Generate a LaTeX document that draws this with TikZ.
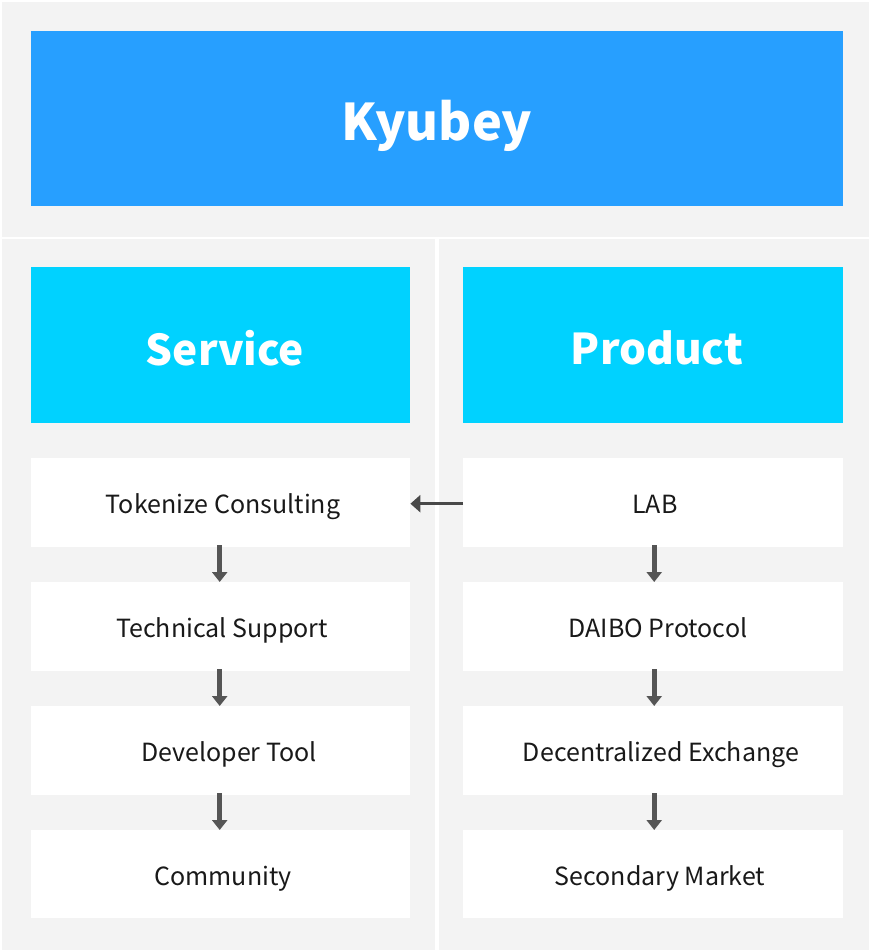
\documentclass[tikz,border=0pt]{standalone}
\usepackage{fontspec}
\setmainfont{Noto Sans CJK SC}
\usetikzlibrary{arrows.meta}
\definecolor{bgray}{HTML}{F3F3F3}
\definecolor{kblue}{HTML}{279FFF}
\definecolor{kcyan}{HTML}{00D2FF}
\definecolor{agray}{HTML}{555555}
\tikzset{
  panel/.style={fill=bgray, draw=none},
  titlebox/.style={fill=kblue, draw=none},
  headbox/.style={fill=kcyan, draw=none},
  itembox/.style={fill=white, draw=none},
  bigtext/.style={text=white, font=\fontsize{50.5}{60}\selectfont\bfseries},
  headtext/.style={text=white, font=\fontsize{42.4}{50}\selectfont\bfseries},
  itemtext/.style={text=black!90, font=\fontsize{25}{30}\selectfont, text height=19pt, text depth=6pt},
  downarrow/.style={draw=agray, line width=5pt, -{Triangle[width=15pt,length=10pt]}},
  leftarrow/.style={draw=agray!85!black, line width=3pt, -{Triangle[width=17pt,length=10pt]}},
}
\begin{document}
\begin{tikzpicture}[x=1pt,y=-1pt]
\useasboundingbox (0,0) rectangle (871,952);
\fill[white] (0,0) rectangle (871,952);
\path[panel] (2,2) rectangle (869,237);
\path[panel] (2,239) rectangle (435,950);
\path[panel] (439,239) rectangle (869,950);
% boxes
\path[titlebox] (31,31) rectangle (843,206);
\node[bigtext] (kyubey) at (437,126) {Kyubey};
\path[headbox] (31,267) rectangle (410,423);
\path[headbox] (463,267) rectangle (843,423);
\node[headtext] (service) at (225,348) {Service};
\node[headtext] (product) at (657,348) {Product};
% items
\node[itembox, minimum width=379pt, minimum height=89pt, anchor=north west, inner sep=0pt] (l1) at (31,458) {};
\node[itembox, minimum width=379pt, minimum height=89pt, anchor=north west, inner sep=0pt] (l2) at (31,582) {};
\node[itembox, minimum width=379pt, minimum height=89pt, anchor=north west, inner sep=0pt] (l3) at (31,706) {};
\node[itembox, minimum width=379pt, minimum height=88pt, anchor=north west, inner sep=0pt] (l4) at (31,830) {};
\node[itembox, minimum width=380pt, minimum height=89pt, anchor=north west, inner sep=0pt] (r1) at (463,458) {};
\node[itembox, minimum width=380pt, minimum height=89pt, anchor=north west, inner sep=0pt] (r2) at (463,582) {};
\node[itembox, minimum width=380pt, minimum height=89pt, anchor=north west, inner sep=0pt] (r3) at (463,706) {};
\node[itembox, minimum width=380pt, minimum height=88pt, anchor=north west, inner sep=0pt] (r4) at (463,830) {};
\node[itemtext] (t1) at (223,507) {Tokenize Consulting};
\node[itemtext] (t2) at (222,631) {Technical Support};
\node[itemtext] (t3) at (229,755) {Developer Tool};
\node[itemtext] (t4) at (223,879) {Community};
\node[itemtext] (u1) at (655,507) {LAB};
\node[itemtext] (u2) at (658,631) {DAIBO Protocol};
\node[itemtext] (u3) at (661,755) {Decentralized Exchange};
\node[itemtext] (u4) at (660,879) {Secondary Market};
% arrows
\draw[downarrow] ([xshift=-1pt,yshift=2pt]l1.south) -- ([xshift=-1pt]l2.north);
\draw[downarrow] ([xshift=-1pt,yshift=2pt]l2.south) -- ([xshift=-1pt]l3.north);
\draw[downarrow] ([xshift=-1pt,yshift=2pt]l3.south) -- ([xshift=-1pt]l4.north);
\draw[downarrow] ([xshift=1pt,yshift=2pt]r1.south) -- ([xshift=1pt]r2.north);
\draw[downarrow] ([xshift=1pt,yshift=2pt]r2.south) -- ([xshift=1pt]r3.north);
\draw[downarrow] ([xshift=1pt,yshift=2pt]r3.south) -- ([xshift=1pt]r4.north);
\draw[leftarrow] ([yshift=-1pt]r1.west) -- ([yshift=-1pt]l1.east);
\end{tikzpicture}
\end{document}
